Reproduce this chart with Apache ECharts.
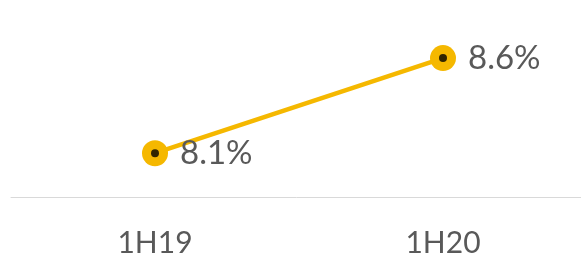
<!DOCTYPE html>
<html>
<head>
<meta charset="utf-8">
<script src="https://cdn.jsdelivr.net/npm/echarts@6/dist/echarts.min.js"></script>
<style>
    html, body { margin: 0; padding: 0; background: #fff; overflow: hidden; }
    #chart { width: 581px; height: 260px; }
</style>
</head>
<body>
<div id="chart"></div>
<script>
const categories = ['1H19', '1H20'];
const values = [8.1, 8.6];

!function () {
    const chart = echarts.init(document.getElementById('chart'));
    const yellow = '#f5b800';
    const font = 'Lato, "Open Sans", sans-serif';

    chart.setOption({
        animation: false,
        grid: {
            left: 11,
            width: 576,
            top: 1,
            bottom: 63,
            outerBoundsMode: 'none'
        },
        xAxis: {
            type: 'category',
            data: categories,
            boundaryGap: true,
            axisLine: { lineStyle: { color: '#d9d9d9', width: 1 } },
            axisTick: { show: false },
            axisLabel: {
                color: '#595959',
                fontSize: 30,
                fontFamily: font,
                margin: 31
            }
        },
        yAxis: {
            type: 'value',
            min: 7.87,
            max: 8.9,
            show: false,
            splitLine: { show: false }
        },
        series: [
            {
                type: 'line',
                data: values,
                symbol: 'circle',
                symbolSize: 26,
                lineStyle: { color: yellow, width: 4.5 },
                itemStyle: { color: yellow },
                label: {
                    show: true,
                    position: 'right',
                    distance: 12,
                    color: '#595959',
                    fontSize: 33,
                    fontFamily: font,
                    formatter: p => p.value.toFixed(1) + '%'
                },
                z: 2
            },
            {
                // 中心黑点
                type: 'scatter',
                data: values,
                symbol: 'circle',
                symbolSize: 8,
                itemStyle: { color: '#000' },
                silent: true,
                z: 3
            }
        ]
    });
}();
</script>
</body>
</html>
